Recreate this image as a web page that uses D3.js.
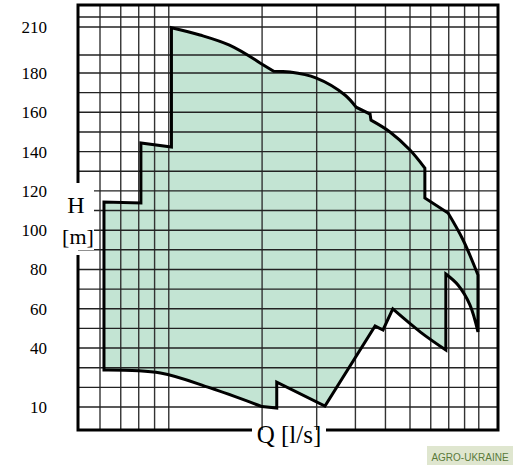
<!DOCTYPE html>
<html><head><meta charset="utf-8">
<script src="https://cdn.jsdelivr.net/npm/d3@7"></script>
<style>body{margin:0;background:#fff}svg{display:block}</style>
</head><body><svg width="529" height="465"></svg>
<script>
const xTicks=[6,7,8,10,20,30,40,50,60];
const xGrid=[6,7,8,9,10,20,30,40,50,60,70,80,90,100];
const yTicks=[10,40,60,80,100,120,140,160,180,210];
const yGrid=[10,20,30,40,50,60,70,80,90,100,110,120,130,140,150,160,170,180,190,210,220];
const outerQ=[6.18,6.18,8.13,8.13,10.2,10.2,12.6,15.7,19.7,21.8,24.6,29.8,37.0,40.2,44.6,44.9,51.7,60,67,67,79.6,89,99.4,99.4,93.7,85.7,78.3,78.3,65,52.8,49.1,46.3,31.9,22.3,22.3,20,13.6,9.4,6.18];
const outerH=[28.8,114.3,113.8,144.4,142.3,209.5,204.3,197,185.6,181,180.5,177.5,168.8,162.6,159.1,156,150,140.8,131.6,116.4,108.7,95,77.2,48.2,61.9,72.1,77.7,39,48,59.9,49.2,51.2,10.5,22.7,9.5,10.2,19.7,27.3,28.8];
const corners=[0,1,2,3,4,5,8,9,13,14,15,18,19,20,22,23,26,27,29,30,31,32,33,34,35,38];

const svg=d3.select("svg");
const x=d3.scaleLog().domain([6,60]).range([100,410]);
const y=d3.scaleLinear().domain([10,180,190,210,220]).range([407,73,55,27,17]);
const L=78,R=498,T=5,B=430;
const pts=outerQ.map((q,i)=>[x(q),y(outerH[i])]);
let d="";
for(let k=0;k<corners.length-1;k++){
  const run=pts.slice(corners[k],corners[k+1]+1);
  let s=d3.line().curve(d3.curveCatmullRom.alpha(0.5))(run);
  d+= k===0? s : "L"+s.slice(1);
}
d+="Z";
svg.append("path").attr("d",d).attr("fill","#c3e4d3");
const g=svg.append("g");
xGrid.forEach(v=>g.append("line").attr("x1",x(v)).attr("x2",x(v)).attr("y1",T).attr("y2",B).attr("stroke","#333").attr("stroke-width",1.4));
yGrid.forEach(v=>g.append("line").attr("x1",L).attr("x2",R).attr("y1",y(v)).attr("y2",y(v)).attr("stroke","#222").attr("stroke-width",1.4));
svg.append("path").attr("d",d).attr("fill","none").attr("stroke","#000").attr("stroke-width",3);
const f=svg.append("g").attr("stroke","#000").attr("stroke-width",3).attr("fill","none");
f.append("path").attr("d",`M${L},183V${T}H${R}V${B}H326M252,${B}H${L}V255`);
const font="'Liberation Serif','DejaVu Serif',serif";
yTicks.forEach(v=>svg.append("text").attr("x",47).attr("y",y(v)+6).attr("text-anchor","end").attr("font-family",font).attr("font-size",17).text(v));
xTicks.forEach(v=>svg.append("text").attr("x",x(v)).attr("y",476).attr("text-anchor","middle").attr("font-family",font).attr("font-size",17).text(v));
svg.append("rect").attr("x",60).attr("y",188).attr("width",34).attr("height",62).attr("fill","#fff");
svg.append("text").attr("x",76).attr("y",213).attr("text-anchor","middle").attr("font-family",font).attr("font-size",24).text("H");
svg.append("text").attr("x",78).attr("y",244).attr("text-anchor","middle").attr("font-family",font).attr("font-size",22).text("[m]");
svg.append("text").attr("x",289).attr("y",443).attr("text-anchor","middle").attr("font-family",font).attr("font-size",25).text("Q [l/s]");
svg.append("rect").attr("x",427).attr("y",446).attr("width",86).attr("height",19).attr("fill","#dfe6cf");
svg.append("text").attr("x",470).attr("y",461).attr("text-anchor","middle").attr("font-family","'Liberation Sans',sans-serif").attr("font-size",10).attr("fill","#5a7a3a").text("AGRO-UKRAINE");
</script></body></html>
